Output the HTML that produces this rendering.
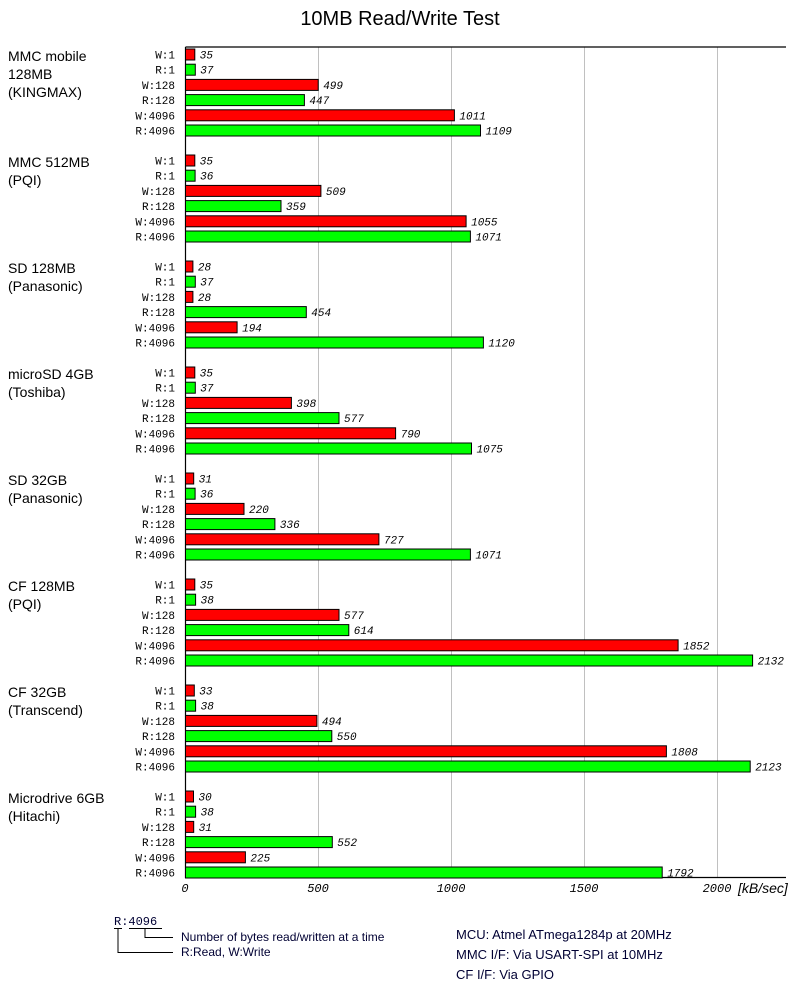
<!DOCTYPE html>
<html><head><meta charset="utf-8"><style>
body{margin:0;background:#fff}
.r{fill:#ff0000;stroke:#000;stroke-width:1}
.g{fill:#00ff00;stroke:#000;stroke-width:1}
.l{font-family:"Liberation Mono",monospace;font-size:11px;text-anchor:end}
.v{font-family:"Liberation Mono",monospace;font-size:11px;font-style:italic}
</style></head><body>
<svg width="800" height="1003" xmlns="http://www.w3.org/2000/svg" font-family="Liberation Sans, sans-serif">
<rect width="800" height="1003" fill="#fff"/>
<text x="400" y="25" font-size="20" text-anchor="middle">10MB Read/Write Test</text>
<g stroke="#c0c0c0" stroke-width="1">
<line x1="318.5" y1="47" x2="318.5" y2="878"/><line x1="451.5" y1="47" x2="451.5" y2="878"/>
<line x1="584.5" y1="47" x2="584.5" y2="878"/><line x1="717.5" y1="47" x2="717.5" y2="878"/>
</g>
<g stroke="#000" stroke-width="1.2"><line x1="185.5" y1="47" x2="786" y2="47"/><line x1="185.5" y1="47" x2="185.5" y2="878"/><line x1="185" y1="877.5" x2="786" y2="877.5"/></g>
<g font-family="Liberation Mono, monospace" font-size="12" font-style="italic" text-anchor="middle">
<text x="185" y="892">0</text><text x="318" y="892">500</text><text x="451" y="892">1000</text><text x="584" y="892">1500</text><text x="717" y="892">2000</text></g>
<text x="738" y="893" font-size="14" font-style="italic">[kB/sec]</text>

<g>
<rect class="r" x="185.5" y="49" width="9.3" height="11"/><rect class="g" x="185.5" y="64.2" width="9.8" height="11"/><rect class="r" x="185.5" y="79.4" width="132.7" height="11"/><rect class="g" x="185.5" y="94.6" width="118.9" height="11"/><rect class="r" x="185.5" y="109.8" width="268.9" height="11"/><rect class="g" x="185.5" y="125" width="295" height="11"/>
<text class="v" x="199.8" y="58.5">35</text><text class="v" x="200.3" y="73.7">37</text><text class="v" x="323.2" y="88.9">499</text><text class="v" x="309.4" y="104.1">447</text><text class="v" x="459.4" y="119.3">1011</text><text class="v" x="485.5" y="134.5">1109</text>
</g>
<g transform="translate(0,106)">
<rect class="r" x="185.5" y="49" width="9.3" height="11"/><rect class="g" x="185.5" y="64.2" width="9.6" height="11"/><rect class="r" x="185.5" y="79.4" width="135.4" height="11"/><rect class="g" x="185.5" y="94.6" width="95.5" height="11"/><rect class="r" x="185.5" y="109.8" width="280.6" height="11"/><rect class="g" x="185.5" y="125" width="284.9" height="11"/>
<text class="v" x="199.8" y="58.5">35</text><text class="v" x="200.1" y="73.7">36</text><text class="v" x="325.9" y="88.9">509</text><text class="v" x="286" y="104.1">359</text><text class="v" x="471.1" y="119.3">1055</text><text class="v" x="475.4" y="134.5">1071</text>
</g>
<g transform="translate(0,212)">
<rect class="r" x="185.5" y="49" width="7.4" height="11"/><rect class="g" x="185.5" y="64.2" width="9.8" height="11"/><rect class="r" x="185.5" y="79.4" width="7.4" height="11"/><rect class="g" x="185.5" y="94.6" width="120.8" height="11"/><rect class="r" x="185.5" y="109.8" width="51.6" height="11"/><rect class="g" x="185.5" y="125" width="297.9" height="11"/>
<text class="v" x="197.9" y="58.5">28</text><text class="v" x="200.3" y="73.7">37</text><text class="v" x="197.9" y="88.9">28</text><text class="v" x="311.3" y="104.1">454</text><text class="v" x="242.1" y="119.3">194</text><text class="v" x="488.4" y="134.5">1120</text>
</g>
<g transform="translate(0,318)">
<rect class="r" x="185.5" y="49" width="9.3" height="11"/><rect class="g" x="185.5" y="64.2" width="9.8" height="11"/><rect class="r" x="185.5" y="79.4" width="105.9" height="11"/><rect class="g" x="185.5" y="94.6" width="153.5" height="11"/><rect class="r" x="185.5" y="109.8" width="210.1" height="11"/><rect class="g" x="185.5" y="125" width="286" height="11"/>
<text class="v" x="199.8" y="58.5">35</text><text class="v" x="200.3" y="73.7">37</text><text class="v" x="296.4" y="88.9">398</text><text class="v" x="344" y="104.1">577</text><text class="v" x="400.6" y="119.3">790</text><text class="v" x="476.5" y="134.5">1075</text>
</g>
<g transform="translate(0,424)">
<rect class="r" x="185.5" y="49" width="8.2" height="11"/><rect class="g" x="185.5" y="64.2" width="9.6" height="11"/><rect class="r" x="185.5" y="79.4" width="58.5" height="11"/><rect class="g" x="185.5" y="94.6" width="89.4" height="11"/><rect class="r" x="185.5" y="109.8" width="193.4" height="11"/><rect class="g" x="185.5" y="125" width="284.9" height="11"/>
<text class="v" x="198.7" y="58.5">31</text><text class="v" x="200.1" y="73.7">36</text><text class="v" x="249" y="88.9">220</text><text class="v" x="279.9" y="104.1">336</text><text class="v" x="383.9" y="119.3">727</text><text class="v" x="475.4" y="134.5">1071</text>
</g>
<g transform="translate(0,530)">
<rect class="r" x="185.5" y="49" width="9.3" height="11"/><rect class="g" x="185.5" y="64.2" width="10.1" height="11"/><rect class="r" x="185.5" y="79.4" width="153.5" height="11"/><rect class="g" x="185.5" y="94.6" width="163.3" height="11"/><rect class="r" x="185.5" y="109.8" width="492.6" height="11"/><rect class="g" x="185.5" y="125" width="567.1" height="11"/>
<text class="v" x="199.8" y="58.5">35</text><text class="v" x="200.6" y="73.7">38</text><text class="v" x="344" y="88.9">577</text><text class="v" x="353.8" y="104.1">614</text><text class="v" x="683.1" y="119.3">1852</text><text class="v" x="757.6" y="134.5">2132</text>
</g>
<g transform="translate(0,636)">
<rect class="r" x="185.5" y="49" width="8.8" height="11"/><rect class="g" x="185.5" y="64.2" width="10.1" height="11"/><rect class="r" x="185.5" y="79.4" width="131.4" height="11"/><rect class="g" x="185.5" y="94.6" width="146.3" height="11"/><rect class="r" x="185.5" y="109.8" width="480.9" height="11"/><rect class="g" x="185.5" y="125" width="564.7" height="11"/>
<text class="v" x="199.3" y="58.5">33</text><text class="v" x="200.6" y="73.7">38</text><text class="v" x="321.9" y="88.9">494</text><text class="v" x="336.8" y="104.1">550</text><text class="v" x="671.4" y="119.3">1808</text><text class="v" x="755.2" y="134.5">2123</text>
</g>
<g transform="translate(0,742)">
<rect class="r" x="185.5" y="49" width="8" height="11"/><rect class="g" x="185.5" y="64.2" width="10.1" height="11"/><rect class="r" x="185.5" y="79.4" width="8.2" height="11"/><rect class="g" x="185.5" y="94.6" width="146.8" height="11"/><rect class="r" x="185.5" y="109.8" width="59.9" height="11"/><rect class="g" x="185.5" y="125" width="476.7" height="11"/>
<text class="v" x="198.5" y="58.5">30</text><text class="v" x="200.6" y="73.7">38</text><text class="v" x="198.7" y="88.9">31</text><text class="v" x="337.3" y="104.1">552</text><text class="v" x="250.4" y="119.3">225</text><text class="v" x="667.2" y="134.5">1792</text>
</g>

<g>
<text class="l" x="175" y="58.5">W:1</text><text class="l" x="175" y="73.7">R:1</text><text class="l" x="175" y="88.9">W:128</text><text class="l" x="175" y="104.1">R:128</text><text class="l" x="175" y="119.3">W:4096</text><text class="l" x="175" y="134.5">R:4096</text>
</g>
<g transform="translate(0,106)"><text class="l" x="175" y="58.5">W:1</text><text class="l" x="175" y="73.7">R:1</text><text class="l" x="175" y="88.9">W:128</text><text class="l" x="175" y="104.1">R:128</text><text class="l" x="175" y="119.3">W:4096</text><text class="l" x="175" y="134.5">R:4096</text></g>
<g transform="translate(0,212)"><text class="l" x="175" y="58.5">W:1</text><text class="l" x="175" y="73.7">R:1</text><text class="l" x="175" y="88.9">W:128</text><text class="l" x="175" y="104.1">R:128</text><text class="l" x="175" y="119.3">W:4096</text><text class="l" x="175" y="134.5">R:4096</text></g>
<g transform="translate(0,318)"><text class="l" x="175" y="58.5">W:1</text><text class="l" x="175" y="73.7">R:1</text><text class="l" x="175" y="88.9">W:128</text><text class="l" x="175" y="104.1">R:128</text><text class="l" x="175" y="119.3">W:4096</text><text class="l" x="175" y="134.5">R:4096</text></g>
<g transform="translate(0,424)"><text class="l" x="175" y="58.5">W:1</text><text class="l" x="175" y="73.7">R:1</text><text class="l" x="175" y="88.9">W:128</text><text class="l" x="175" y="104.1">R:128</text><text class="l" x="175" y="119.3">W:4096</text><text class="l" x="175" y="134.5">R:4096</text></g>
<g transform="translate(0,530)"><text class="l" x="175" y="58.5">W:1</text><text class="l" x="175" y="73.7">R:1</text><text class="l" x="175" y="88.9">W:128</text><text class="l" x="175" y="104.1">R:128</text><text class="l" x="175" y="119.3">W:4096</text><text class="l" x="175" y="134.5">R:4096</text></g>
<g transform="translate(0,636)"><text class="l" x="175" y="58.5">W:1</text><text class="l" x="175" y="73.7">R:1</text><text class="l" x="175" y="88.9">W:128</text><text class="l" x="175" y="104.1">R:128</text><text class="l" x="175" y="119.3">W:4096</text><text class="l" x="175" y="134.5">R:4096</text></g>
<g transform="translate(0,742)"><text class="l" x="175" y="58.5">W:1</text><text class="l" x="175" y="73.7">R:1</text><text class="l" x="175" y="88.9">W:128</text><text class="l" x="175" y="104.1">R:128</text><text class="l" x="175" y="119.3">W:4096</text><text class="l" x="175" y="134.5">R:4096</text></g>

<g font-size="14" fill="#000">
<text x="8" y="61">MMC mobile</text><text x="8" y="79">128MB</text><text x="8" y="97">(KINGMAX)</text>
<text x="8" y="167">MMC 512MB</text><text x="8" y="185">(PQI)</text>
<text x="8" y="273">SD 128MB</text><text x="8" y="291">(Panasonic)</text>
<text x="8" y="379">microSD 4GB</text><text x="8" y="397">(Toshiba)</text>
<text x="8" y="485">SD 32GB</text><text x="8" y="503">(Panasonic)</text>
<text x="8" y="591">CF 128MB</text><text x="8" y="609">(PQI)</text>
<text x="8" y="697">CF 32GB</text><text x="8" y="715">(Transcend)</text>
<text x="8" y="803">Microdrive 6GB</text><text x="8" y="821">(Hitachi)</text>
</g>
<text x="114" y="925" font-family="Liberation Mono, monospace" font-size="12" fill="#000033">R:4096</text>
<g stroke="#000" stroke-width="1" fill="none">
<line x1="114" y1="928.5" x2="122" y2="928.5"/><line x1="129" y1="928.5" x2="162" y2="928.5"/>
<polyline points="145,929 145,937.5 173,937.5"/><polyline points="118,929 118,952.5 173,952.5"/>
</g>
<g font-size="12" fill="#000033"><text x="181" y="941">Number of bytes read/written at a time</text><text x="181" y="956">R:Read, W:Write</text></g>
<g font-size="13" fill="#000033"><text x="456" y="939">MCU: Atmel ATmega1284p at 20MHz</text><text x="456" y="959">MMC I/F: Via USART-SPI at 10MHz</text><text x="456" y="979">CF I/F: Via GPIO</text></g>
</svg>
</body></html>
